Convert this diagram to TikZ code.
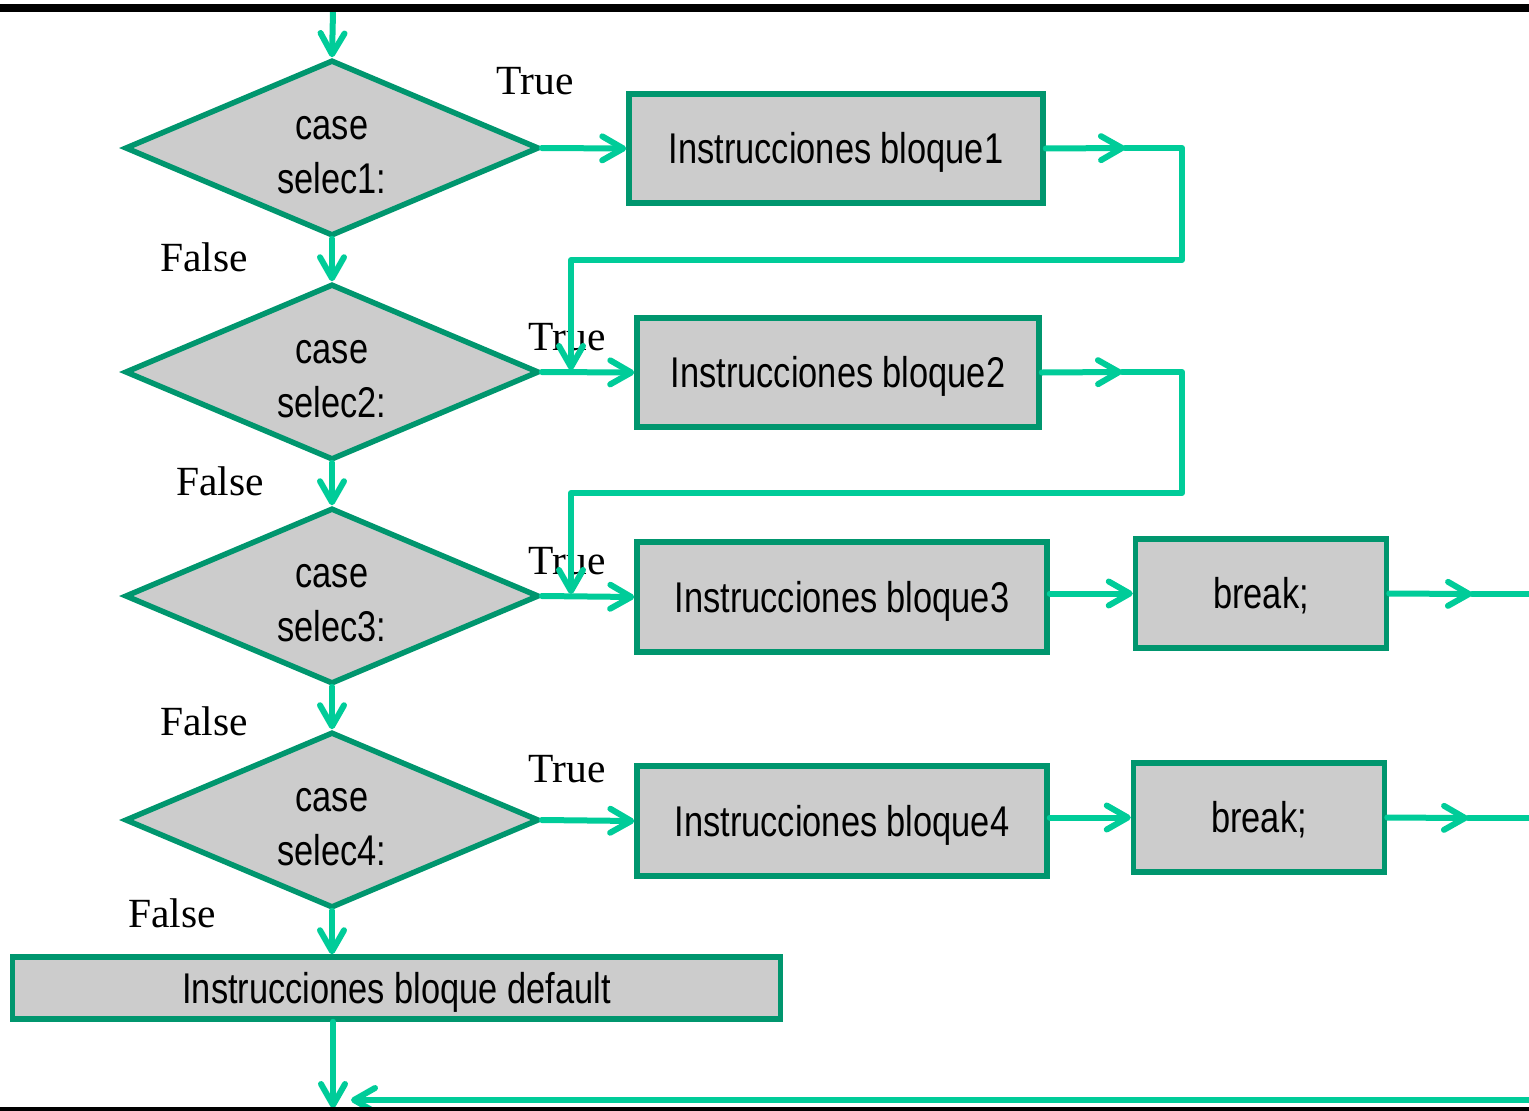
\documentclass[tikz,border=0pt]{standalone}
\usepackage{fontspec}
\setmainfont{Liberation Serif}
\newfontfamily\boxfont[FakeStretch=0.8]{Liberation Sans}
\usetikzlibrary{shapes.geometric,arrows.meta}
\definecolor{edgegreen}{RGB}{0,150,110}
\definecolor{flowgreen}{RGB}{0,204,153}
\definecolor{boxgray}{RGB}{204,204,204}
\newcommand{\caselines}[1]{\rule{0pt}{37pt}case\\selec#1:}
\begin{document}
\begin{tikzpicture}[x=1pt,y=-1pt,
  stepbox/.style={rectangle, draw=edgegreen, fill=boxgray, line width=5.5pt,
    inner sep=0pt, text height=30.8pt, text depth=0pt,
    font=\boxfont\fontsize{43}{50}\selectfont},
  decision/.style={diamond, draw=edgegreen, fill=boxgray, line width=5.5pt,
    inner sep=0pt, aspect=2.4, minimum width=414pt, minimum height=176pt,
    align=center, font=\boxfont\fontsize{43}{54}\selectfont},
  flow/.style={draw=flowgreen, line width=6pt, line cap=round, line join=round},
  tip/.style={-{Straight Barb[length=21pt,width=24pt,round]}},
  lbl/.style={inner sep=0pt, font=\fontsize{41.5}{42}\selectfont}]
\useasboundingbox (0,0) rectangle (1529,1111);

% branch labels
\node[lbl] (lt1) at (535,81) {True};
\node[lbl] (lt2) at (567,337) {True};
\node[lbl] (lt3) at (567,561) {True};
\node[lbl] (lt4) at (567,769) {True};
\node[lbl] (lf1) at (204,257) {False};
\node[lbl] (lf2) at (220,481) {False};
\node[lbl] (lf3) at (204,721) {False};
\node[lbl] (lf4) at (172,913) {False};

% decisions
\node[decision] (d1) at (332,148) {\caselines{1}};
\node[decision] (d2) at (332,372) {\caselines{2}};
\node[decision] (d3) at (332,596) {\caselines{3}};
\node[decision] (d4) at (332,820) {\caselines{4}};

% instruction blocks
\node[stepbox, minimum width=414pt, minimum height=109pt] (b1) at (836,148.5) {Instrucciones bloque1};
\node[stepbox, minimum width=402pt, minimum height=109pt] (b2) at (838,372.5) {Instrucciones bloque2};
\node[stepbox, minimum width=410pt, minimum height=110pt] (b3) at (842,597) {Instrucciones bloque3};
\node[stepbox, minimum width=410pt, minimum height=110pt] (b4) at (842,821) {Instrucciones bloque4};
\node[stepbox, minimum width=251pt, minimum height=109pt] (k3) at (1261,593.5) {break;};
\node[stepbox, minimum width=251pt, minimum height=109pt] (k4) at (1259,817.5) {break;};
\node[stepbox, minimum width=768pt, minimum height=62pt] (df) at (396.5,988) {Instrucciones bloque default};

% helper points of the connectors
\coordinate (start) at (333,12);
\coordinate (t1) at (1125,148);
\coordinate (r1a) at (1182,148);
\coordinate (r1b) at (1182,260);
\coordinate (r1c) at (571,260);
\coordinate (j2) at (571,370);
\coordinate (t2) at (1122,372);
\coordinate (r2a) at (1182,372);
\coordinate (r2b) at (1182,493);
\coordinate (r2c) at (571,493);
\coordinate (j3) at (571,594);
\coordinate (t3) at (1472,594);
\coordinate (e3) at (1532,594);
\coordinate (t4) at (1468,818);
\coordinate (e4) at (1532,818);
\coordinate (back) at (1532,1100);
\coordinate (backtip) at (351,1100);
\coordinate (finish) at (333,1108);

% main column
\draw[flow,tip] (start) -- (d1.north);
\draw[flow,tip] (d1.south) -- (d2.north);
\draw[flow,tip] (d2.south) -- (d3.north);
\draw[flow,tip] (d3.south) -- (d4.north);
\draw[flow,tip] (d4.south) -- (d4.south |- df.north);
\draw[flow,tip] (df.south -| finish) -- (finish);

% true branches
\draw[flow,tip] (d1.east) -- (b1.west);
\draw[flow,tip] (d2.east) -- (b2.west);
\draw[flow,tip] (d3.east) -- (b3.west);
\draw[flow,tip] (d4.east) -- (b4.west);

% fall-through from block 1 and block 2
\draw[flow,tip] (b1.east) -- (t1);
\draw[flow,tip] (t1) -- (r1a) -- (r1b) -- (r1c) -- (j2);
\draw[flow,tip] (b2.east) -- (t2);
\draw[flow,tip] (t2) -- (r2a) -- (r2b) -- (r2c) -- (j3);

% break paths
\draw[flow,tip] (b3.east |- k3.west) -- (k3.west);
\draw[flow,tip] (k3.east) -- (t3);
\draw[flow] (t3) -- (e3);
\draw[flow,tip] (b4.east |- k4.west) -- (k4.west);
\draw[flow,tip] (k4.east) -- (t4);
\draw[flow] (t4) -- (e4);
\draw[flow,tip] (back) -- (backtip);

% frame rules
\draw[line width=8pt] (0,8) -- (1529,8);
\draw[line width=6pt] (0,1110) -- (1529,1110);
\end{tikzpicture}
\end{document}
